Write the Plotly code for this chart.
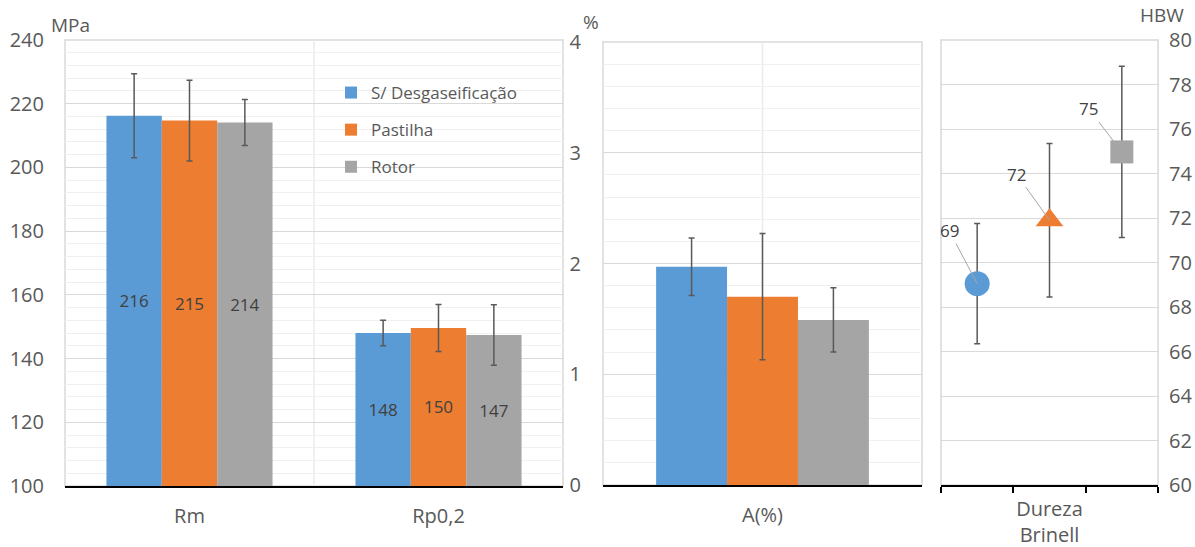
import plotly.graph_objects as go

# ---------------- data ----------------
series = ["S/ Desgaseificação", "Pastilha", "Rotor"]
colors = ["#5B9BD5", "#ED7D31", "#A5A5A5"]

tensile_cats = ["Rm", "Rp0,2"]
rm_vals = [216.2, 214.7, 214.1]
rm_err = [13.2, 12.7, 7.2]
rp_vals = [148.0, 149.6, 147.4]
rp_err = [4.0, 7.4, 9.5]

elong_cats = ["A(%)"]
a_vals = [1.97, 1.70, 1.49]
a_err = [0.26, 0.57, 0.29]

hard_label = "Dureza<br>Brinell"
hb_pos = [0.5, 1.5, 2.5]
hb_vals = [69.05, 71.9, 74.97]
hb_err = [2.7, 3.45, 3.85]
hb_text = ["69", "72", "75"]
hb_symbols = ["circle", "triangle-up", "square"]
hb_sizes = [25, 24, 23]

mpa_base = 100
mpa_ticks = [100, 120, 140, 160, 180, 200, 220, 240]
pct_ticks = [0, 1, 2, 3, 4]
hbw_ticks = [60, 62, 64, 66, 68, 70, 72, 74, 76, 78, 80]

# ---------------- style ----------------
W, H = 1195, 547
FONT = "Open Sans"
TICK_COL = "#595959"
LABEL_COL = "#404040"
GRID = "#d9d9d9"
MINOR = "#f0f0f0"
ERR_COL = "#595959"

def px_x(p):
    return p / W

def px_y(p):
    return 1 - p / H

fig = go.Figure()

for i, name in enumerate(series):
    vals = [rm_vals[i], rp_vals[i]]
    fig.add_trace(go.Bar(
        x=tensile_cats, y=[v - mpa_base for v in vals], base=mpa_base, name=name,
        marker=dict(color=colors[i], line=dict(width=0)),
        error_y=dict(type="data", array=[rm_err[i], rp_err[i]], color=ERR_COL, thickness=1.5, width=3),
        text=[f"{v:.0f}" for v in vals], textposition="inside", insidetextanchor="middle",
        textangle=0, constraintext="none",
        textfont=dict(color=LABEL_COL, size=17, family=FONT),
        legendgroup=name, xaxis="x", yaxis="y",
    ))
for i, name in enumerate(series):
    fig.add_trace(go.Bar(
        x=elong_cats, y=[a_vals[i]], name=name, showlegend=False,
        marker=dict(color=colors[i], line=dict(width=0)),
        error_y=dict(type="data", array=[a_err[i]], color=ERR_COL, thickness=1.5, width=3),
        legendgroup=name, xaxis="x2", yaxis="y2",
    ))
for i, name in enumerate(series):
    fig.add_trace(go.Scatter(
        x=[hb_pos[i]], y=[hb_vals[i]], mode="markers", name=name, showlegend=False,
        marker=dict(color=colors[i], symbol=hb_symbols[i], size=hb_sizes[i], line=dict(width=0)),
        error_y=dict(type="data", array=[hb_err[i]], color=ERR_COL, thickness=1.5, width=3),
        legendgroup=name, xaxis="x3", yaxis="y3",
    ))

tickfont = dict(family=FONT, size=20, color=TICK_COL)

fig.update_layout(
    width=W, height=H, margin=dict(l=0, r=0, t=0, b=0, autoexpand=False),
    paper_bgcolor="white", plot_bgcolor="white",
    font=dict(family=FONT, color=TICK_COL),
    barmode="group", bargap=0.333, bargroupgap=0,
    showlegend=True,
    legend=dict(x=px_x(331), y=px_y(75), xanchor="left", yanchor="top",
                bgcolor="rgba(0,0,0,0)", font=dict(family=FONT, size=17, color=TICK_COL),
                tracegroupgap=12, itemwidth=30),
    xaxis=dict(domain=[px_x(65), px_x(563)], anchor="y", showgrid=False, automargin=False,
               showline=True, linecolor="black", linewidth=1.5,
               ticks="outside", ticklen=11, tickcolor="rgba(0,0,0,0)", tickfont=tickfont),
    yaxis=dict(domain=[px_y(486), px_y(40)], anchor="x", range=[100, 240], automargin=False,
               tickvals=mpa_ticks, showgrid=True, gridcolor=GRID, gridwidth=1, zeroline=False,
               minor=dict(dtick=4, showgrid=True, gridcolor=MINOR),
               ticks="outside", ticklen=16, tickcolor="rgba(0,0,0,0)", tickfont=tickfont),
    xaxis2=dict(domain=[px_x(603), px_x(922)], anchor="y2", showgrid=False, automargin=False,
                showline=True, linecolor="black", linewidth=1.5,
                ticks="outside", ticklen=11, tickcolor="rgba(0,0,0,0)", tickfont=tickfont),
    yaxis2=dict(domain=[px_y(485), px_y(42)], anchor="x2", range=[0, 4], automargin=False,
                tickvals=pct_ticks, showgrid=True, gridcolor=GRID, zeroline=False,
                minor=dict(dtick=0.2, showgrid=True, gridcolor=MINOR),
                ticks="outside", ticklen=17, tickcolor="rgba(0,0,0,0)", tickfont=tickfont),
    xaxis3=dict(domain=[px_x(941), px_x(1158)], anchor="y3", range=[0, 3], showgrid=False,
                automargin=False,
                showline=True, linecolor="black", linewidth=1.5, zeroline=False,
                tickvals=[1.5], ticktext=[hard_label],
                ticks="outside", ticklen=5, tickcolor="rgba(0,0,0,0)", tickfont=tickfont,
                minor=dict(tickvals=[0, 1, 2, 3], ticks="outside", ticklen=6,
                           tickcolor="black", tickwidth=1.5, showgrid=False)),
    yaxis3=dict(domain=[px_y(485), px_y(40)], anchor="x3", side="right", range=[60, 80],
                automargin=False,
                tickvals=hbw_ticks, showgrid=True, gridcolor=GRID, zeroline=False,
                ticks="outside", ticklen=6, tickcolor="rgba(0,0,0,0)", tickfont=tickfont),
)

shapes = []
for xr, yr in [("x", "y"), ("x2", "y2"), ("x3", "y3")]:
    shapes.append(dict(type="rect", xref=f"{xr} domain", yref=f"{yr} domain",
                       x0=0, x1=1, y0=0, y1=1, line=dict(color=GRID, width=1.5),
                       fillcolor="rgba(0,0,0,0)", layer="below"))
shapes.append(dict(type="line", xref="x", yref="y domain", x0=0.5, x1=0.5, y0=0, y1=1,
                   line=dict(color="#ebebeb", width=1.5), layer="below"))
shapes.append(dict(type="line", xref="x2", yref="y2 domain", x0=0, x1=0, y0=0, y1=1,
                   line=dict(color="#ebebeb", width=1.5), layer="below"))
fig.update_layout(shapes=shapes)

annotations = []
for txt, xp, yp in [("MPa", 70, 25), ("%", 591, 22), ("HBW", 1162, 15)]:
    annotations.append(dict(text=txt, x=px_x(xp), y=px_y(yp), xref="paper", yref="paper",
                            xanchor="center", yanchor="middle", showarrow=False,
                            font=dict(family=FONT, size=19, color=TICK_COL)))
offsets = [(-28, -53), (-33, -46), (-33, -43)]
for i in range(3):
    annotations.append(dict(
        text=hb_text[i], x=hb_pos[i], y=hb_vals[i], xref="x3", yref="y3",
        showarrow=True, arrowhead=0, arrowwidth=1, arrowcolor="#a6a6a6",
        ax=offsets[i][0], ay=offsets[i][1], standoff=0,
        font=dict(family=FONT, size=17, color=LABEL_COL)))
fig.update_layout(annotations=annotations)

fig.write_html("out.html", config={"displayModeBar": False},
               post_script="document.body.style.margin='0';document.body.style.overflow='hidden';")
